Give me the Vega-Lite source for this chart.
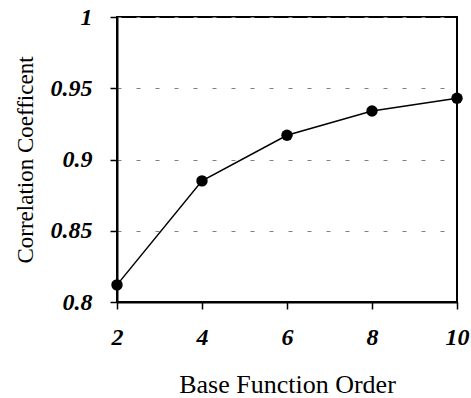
{
  "$schema": "https://vega.github.io/schema/vega-lite/v6.json",
  "width": 340,
  "height": 285,
  "autosize": {"type": "none"},
  "padding": {"left": 117, "top": 17, "right": 14, "bottom": 96},
  "background": "white",
  "data": {"values": [
    {"order": 2, "corr": 0.812},
    {"order": 4, "corr": 0.885},
    {"order": 6, "corr": 0.917},
    {"order": 8, "corr": 0.934},
    {"order": 10, "corr": 0.943}
  ]},
  "config": {
    "view": {"stroke": "black", "strokeWidth": 2},
    "font": "Liberation Serif"
  },
  "encoding": {
    "x": {
      "field": "order", "type": "quantitative",
      "scale": {"domain": [2, 10], "nice": false, "zero": false},
      "axis": {
        "values": [2, 4, 6, 8, 10], "title": "Base Function Order",
        "grid": false, "domainColor": "black", "domainWidth": 2,
        "tickColor": "black", "tickWidth": 1.5, "tickSize": 7,
        "labelFont": "Liberation Serif", "labelFontSize": 24, "labelFontWeight": "bold", "labelFontStyle": "italic",
        "labelColor": "black", "labelPadding": 16, "labelFlush": false,
        "titleFont": "Liberation Serif", "titleFontSize": 26, "titleFontWeight": "normal", "titleColor": "black",
        "titlePadding": 22
      }
    },
    "y": {
      "field": "corr", "type": "quantitative",
      "scale": {"domain": [0.8, 1], "nice": false, "zero": false},
      "axis": {
        "values": [0.8, 0.85, 0.9, 0.95, 1], "format": "~g", "title": "Correlation Coefficent",
        "grid": true, "gridColor": "#808080", "gridDash": [4, 15], "gridWidth": 1,
        "domainColor": "black", "domainWidth": 2,
        "tickColor": "black", "tickWidth": 1.5, "tickSize": 7,
        "labelFont": "Liberation Serif", "labelFontSize": 24, "labelFontWeight": "bold", "labelFontStyle": "italic",
        "labelColor": "black", "labelPadding": 18, "labelFlush": false,
        "titleFont": "Liberation Serif", "titleFontSize": 23, "titleFontWeight": "normal", "titleColor": "black",
        "titlePadding": 13
      }
    }
  },
  "layer": [
    {"mark": {"type": "line", "color": "black", "strokeWidth": 1.5}},
    {"mark": {"type": "point", "filled": true, "color": "black", "opacity": 1, "size": 130}}
  ]
}
